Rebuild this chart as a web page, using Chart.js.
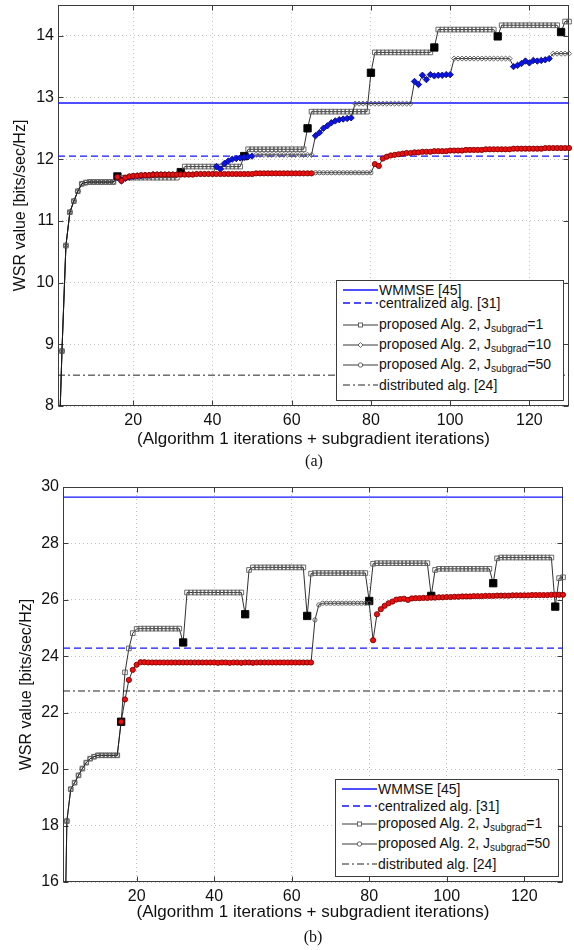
<!DOCTYPE html>
<html>
<head>
<meta charset="utf-8">
<script src="https://cdn.jsdelivr.net/npm/chart.js@4.4.1/dist/chart.umd.min.js"></script>
<style>
  body { margin: 0; background: #fff; width: 574px; height: 950px; position: relative; overflow: hidden;
         font-family: "Liberation Sans", Arial, sans-serif; color: #111; }
  canvas { position: absolute; left: 0; }
  .caption { position: absolute; width: 40px; text-align: center; font: 16px "Liberation Serif", serif; }
  .legend { position: absolute; border: 1px solid #3c3c3c; background: #fff; box-sizing: border-box; }
  .legend .row { position: absolute; left: 0; height: 16px; display: flex; align-items: center;
                 font-size: 14px; line-height: 16px; white-space: nowrap; }
  .legend svg { flex: none; }
  .sub { font-size: 10px; position: relative; top: 3px; }
</style>
</head>
<body>
<canvas id="chartA" width="574" height="470" style="top:0;width:574px;height:470px"></canvas>
<canvas id="chartB" width="574" height="480" style="top:470px;width:574px;height:480px"></canvas>
<div class="caption" style="left:294px;top:452px">(a)</div>
<div class="caption" style="left:293px;top:928px">(b)</div>

<div class="legend" style="left:336px;top:280px;width:228px;height:121px">
  <div class="row" style="top:0.5px"><svg width="42" height="16"><line x1="6" y1="8" x2="41" y2="8" stroke="#1414ff" stroke-width="1.3"/></svg><span>WMMSE [45]</span></div>
  <div class="row" style="top:13.5px"><svg width="42" height="16"><line x1="6" y1="8" x2="41" y2="8" stroke="#1414ff" stroke-width="1.3" stroke-dasharray="7 4"/></svg><span>centralized alg. [31]</span></div>
  <div class="row" style="top:35.5px"><svg width="42" height="16"><line x1="6" y1="8" x2="41" y2="8" stroke="#222" stroke-width="0.9"/><rect x="21.5" y="6" width="4" height="4" fill="#fff" stroke="#555" stroke-width="0.9"/></svg><span>proposed Alg. 2, J<span class="sub">subgrad</span>=1</span></div>
  <div class="row" style="top:56px"><svg width="42" height="16"><line x1="6" y1="8" x2="41" y2="8" stroke="#222" stroke-width="0.9"/><polygon points="23.5,5.5 26,8 23.5,10.5 21,8" fill="#fff" stroke="#555" stroke-width="0.9"/></svg><span>proposed Alg. 2, J<span class="sub">subgrad</span>=10</span></div>
  <div class="row" style="top:76px"><svg width="42" height="16"><line x1="6" y1="8" x2="41" y2="8" stroke="#222" stroke-width="0.9"/><circle cx="23.5" cy="8" r="2.2" fill="#fff" stroke="#555" stroke-width="0.9"/></svg><span>proposed Alg. 2, J<span class="sub">subgrad</span>=50</span></div>
  <div class="row" style="top:95.5px"><svg width="42" height="16"><line x1="6" y1="8" x2="41" y2="8" stroke="#222" stroke-width="1" stroke-dasharray="7 3 2 3"/></svg><span>distributed alg. [24]</span></div>
</div>

<div class="legend" style="left:335px;top:779px;width:224px;height:98px">
  <div class="row" style="top:0.5px"><svg width="42" height="16"><line x1="6" y1="8" x2="41" y2="8" stroke="#1414ff" stroke-width="1.3"/></svg><span>WMMSE [45]</span></div>
  <div class="row" style="top:18px"><svg width="42" height="16"><line x1="6" y1="8" x2="41" y2="8" stroke="#1414ff" stroke-width="1.3" stroke-dasharray="7 4"/></svg><span>centralized alg. [31]</span></div>
  <div class="row" style="top:36px"><svg width="42" height="16"><line x1="6" y1="8" x2="41" y2="8" stroke="#222" stroke-width="0.9"/><rect x="21.5" y="6" width="4" height="4" fill="#fff" stroke="#555" stroke-width="0.9"/></svg><span>proposed Alg. 2, J<span class="sub">subgrad</span>=1</span></div>
  <div class="row" style="top:56px"><svg width="42" height="16"><line x1="6" y1="8" x2="41" y2="8" stroke="#222" stroke-width="0.9"/><circle cx="23.5" cy="8" r="2.2" fill="#fff" stroke="#555" stroke-width="0.9"/></svg><span>proposed Alg. 2, J<span class="sub">subgrad</span>=50</span></div>
  <div class="row" style="top:76px"><svg width="42" height="16"><line x1="6" y1="8" x2="41" y2="8" stroke="#222" stroke-width="1" stroke-dasharray="7 3 2 3"/></svg><span>distributed alg. [24]</span></div>
</div>

<script>
// iteration axis and ticks
const xMin = 1, xMax = 130;
const xTicks = [20, 40, 60, 80, 100, 120];
const yTicksA = [8, 9, 10, 11, 12, 13, 14];
const yTicksB = [16, 18, 20, 22, 24, 26, 28, 30];

// benchmark levels (a) and (b)
const wmmseA = 12.91, centralA = 12.05, distribA = 8.50;
const wmmseB = 29.64, centralB = 24.29, distribB = 22.77;

// iterations run as subgradient steps (filled markers), as [first, last]
const subJ1 = [[16, 16], [32, 32], [48, 48], [64, 64], [80, 80], [96, 96], [112, 112], [128, 128]];
const subJ10 = [[16, 25], [41, 50], [66, 75], [91, 100], [116, 125]];
const subJ50 = [[16, 65], [81, 130]];

// (a): first 15 Algorithm 1 iterations are shared by every variant
const warmupA = [6.80, 8.89, 10.60, 11.14, 11.32, 11.48, 11.60, 11.62, 11.63, 11.63,
                 11.63, 11.63, 11.63, 11.63, 11.63];
const j1A = warmupA.concat([
  11.72, 11.70, 11.70, 11.70, 11.70,
  11.70, 11.70, 11.70, 11.70, 11.70, 11.70, 11.70, 11.70, 11.70, 11.70,
  11.70, 11.79, 11.88, 11.88, 11.88, 11.88, 11.88, 11.88, 11.88, 11.88,
  11.88, 11.88, 11.88, 11.88, 11.88, 11.88, 11.88, 12.05, 12.16, 12.16,
  12.16, 12.16, 12.16, 12.16, 12.16, 12.16, 12.16, 12.16, 12.16, 12.16,
  12.16, 12.16, 12.16, 12.50, 12.77, 12.77, 12.77, 12.77, 12.77, 12.77,
  12.77, 12.77, 12.77, 12.77, 12.77, 12.77, 12.77, 12.77, 12.77, 13.40,
  13.73, 13.73, 13.73, 13.73, 13.73, 13.73, 13.73, 13.73, 13.73, 13.73,
  13.73, 13.73, 13.73, 13.73, 13.73, 13.81, 14.10, 14.10, 14.10, 14.10,
  14.10, 14.10, 14.10, 14.10, 14.10, 14.10, 14.10, 14.10, 14.10, 14.10,
  14.10, 13.99, 14.17, 14.17, 14.17, 14.17, 14.17, 14.17, 14.17, 14.17,
  14.17, 14.17, 14.17, 14.17, 14.17, 14.17, 14.17, 14.06, 14.23, 14.23
]);
const j10A = warmupA.concat([
  11.71, 11.65, 11.69, 11.71, 11.72,
  11.73, 11.73, 11.74, 11.74, 11.75, 11.76, 11.76, 11.76, 11.76, 11.76,
  11.76, 11.76, 11.76, 11.76, 11.76, 11.76, 11.76, 11.76, 11.76, 11.76,
  11.88, 11.84, 11.93, 11.97, 12.00, 12.01, 12.02, 12.03, 12.04, 12.05,
  12.07, 12.07, 12.07, 12.07, 12.07, 12.07, 12.07, 12.07, 12.07, 12.07,
  12.07, 12.07, 12.07, 12.07, 12.07, 12.38, 12.43, 12.50, 12.54, 12.59,
  12.62, 12.64, 12.65, 12.66, 12.67, 12.90, 12.90, 12.90, 12.90, 12.90,
  12.90, 12.90, 12.90, 12.90, 12.90, 12.90, 12.90, 12.90, 12.90, 12.90,
  13.26, 13.21, 13.36, 13.29, 13.37, 13.35, 13.36, 13.36, 13.37, 13.37,
  13.63, 13.63, 13.63, 13.63, 13.63, 13.63, 13.63, 13.63, 13.63, 13.63,
  13.63, 13.63, 13.63, 13.63, 13.63, 13.50, 13.52, 13.55, 13.59, 13.56,
  13.60, 13.59, 13.60, 13.61, 13.63, 13.71, 13.71, 13.71, 13.71, 13.71
]);
const j50A = warmupA.concat([
  11.71, 11.65, 11.70, 11.72, 11.73,
  11.73, 11.74, 11.74, 11.74, 11.75, 11.75, 11.75, 11.75, 11.75, 11.75,
  11.75, 11.75, 11.75, 11.75, 11.75, 11.76, 11.76, 11.76, 11.76, 11.76,
  11.76, 11.76, 11.76, 11.76, 11.76, 11.76, 11.76, 11.76, 11.76, 11.76,
  11.77, 11.77, 11.77, 11.77, 11.77, 11.77, 11.77, 11.77, 11.77, 11.77,
  11.77, 11.77, 11.77, 11.77, 11.77, 11.78, 11.78, 11.78, 11.78, 11.78,
  11.78, 11.78, 11.78, 11.78, 11.78, 11.78, 11.78, 11.78, 11.78, 11.78,
  11.92, 11.89, 12.01, 12.04, 12.06, 12.07, 12.08, 12.09, 12.10, 12.10,
  12.11, 12.11, 12.12, 12.12, 12.12, 12.13, 12.13, 12.13, 12.13, 12.14,
  12.14, 12.14, 12.14, 12.15, 12.15, 12.15, 12.15, 12.15, 12.16, 12.16,
  12.16, 12.16, 12.16, 12.16, 12.16, 12.17, 12.17, 12.17, 12.17, 12.17,
  12.17, 12.17, 12.17, 12.18, 12.18, 12.18, 12.18, 12.18, 12.18, 12.18
]);

// (b)
const warmupB = [10.00, 18.16, 19.29, 19.52, 19.78, 20.02, 20.23, 20.37, 20.44, 20.49,
                 20.49, 20.49, 20.49, 20.49, 20.49];
const j1B = warmupB.concat([
  21.68, 23.43, 24.28, 24.82, 24.97,
  24.98, 24.98, 24.98, 24.98, 24.98, 24.98, 24.98, 24.98, 24.98, 24.98,
  24.98, 24.49, 26.26, 26.26, 26.26, 26.26, 26.26, 26.26, 26.26, 26.26,
  26.26, 26.26, 26.26, 26.26, 26.26, 26.26, 26.26, 25.49, 27.06, 27.15,
  27.15, 27.15, 27.15, 27.15, 27.15, 27.15, 27.15, 27.15, 27.15, 27.15,
  27.15, 27.15, 27.15, 25.43, 26.93, 26.95, 26.95, 26.95, 26.95, 26.95,
  26.95, 26.95, 26.95, 26.95, 26.95, 26.95, 26.95, 26.95, 26.95, 25.96,
  27.28, 27.30, 27.30, 27.30, 27.30, 27.30, 27.30, 27.30, 27.30, 27.30,
  27.30, 27.30, 27.30, 27.30, 27.30, 26.14, 27.06, 27.10, 27.10, 27.10,
  27.10, 27.10, 27.10, 27.10, 27.10, 27.10, 27.10, 27.10, 27.10, 27.10,
  27.10, 26.59, 27.47, 27.50, 27.50, 27.50, 27.50, 27.50, 27.50, 27.50,
  27.50, 27.50, 27.50, 27.50, 27.50, 27.50, 27.50, 25.76, 26.77, 26.80
]);
const j50B = warmupB.concat([
  21.68, 22.47, 23.16, 23.52, 23.70,
  23.79, 23.79, 23.78, 23.78, 23.78, 23.78, 23.78, 23.78, 23.78, 23.78,
  23.78, 23.78, 23.78, 23.78, 23.78, 23.78, 23.78, 23.78, 23.78, 23.78,
  23.77, 23.78, 23.78, 23.77, 23.78, 23.78, 23.77, 23.78, 23.78, 23.77,
  23.78, 23.78, 23.78, 23.78, 23.78, 23.78, 23.78, 23.78, 23.78, 23.78,
  23.78, 23.78, 23.78, 23.78, 23.78, 25.29, 25.82, 25.88, 25.88, 25.88,
  25.88, 25.88, 25.88, 25.88, 25.88, 25.88, 25.88, 25.88, 25.88, 25.88,
  24.57, 25.49, 25.67, 25.79, 25.88, 25.94, 26.01, 26.03, 26.04, 26.00,
  26.05, 26.06, 26.06, 26.07, 26.07, 26.08, 26.08, 26.09, 26.09, 26.10,
  26.10, 26.11, 26.11, 26.12, 26.12, 26.12, 26.13, 26.13, 26.13, 26.14,
  26.14, 26.14, 26.15, 26.15, 26.15, 26.15, 26.16, 26.16, 26.16, 26.16,
  26.16, 26.17, 26.17, 26.17, 26.17, 26.17, 26.18, 26.18, 26.18, 26.18
]);

const fontFamily = '"Liberation Sans", Arial, sans-serif';
const inRanges = (ranges, it) => ranges.some(([a, b]) => it >= a && it <= b);

const markSquare = {shape: 'rect', radius: 3.3, subRadius: 5.2, fill: '#000', edge: '#000'};
const markDiamond = {shape: 'rectRot', radius: 2.6, subRadius: 3.2, fill: '#0a14e6', edge: '#0a0a80'};
const markCircle = {shape: 'circle', radius: 2.1, subRadius: 2.6, fill: '#ee1010', edge: '#800000'};

function seriesDataset(label, values, ranges, mk, order) {
  const isSub = c => inRanges(ranges, c.dataIndex + 1);
  return {
    label,
    data: values.map((v, i) => ({x: i + 1, y: v})),
    borderColor: '#1a1a1a',
    borderWidth: 0.9,
    pointStyle: mk.shape,
    pointRadius: c => isSub(c) ? mk.subRadius : mk.radius,
    pointBackgroundColor: c => isSub(c) ? mk.fill : 'rgba(255,255,255,0)',
    pointBorderColor: c => isSub(c) ? mk.edge : '#5a5a5a',
    pointBorderWidth: 0.9,
    order,
    clip: {left: 8, right: 8, top: 8, bottom: 0}
  };
}

function levelDataset(label, y, color, dash, width) {
  return {
    label,
    data: [{x: xMin, y}, {x: xMax, y}],
    borderColor: color,
    borderDash: dash,
    borderWidth: width,
    pointRadius: 0,
    order: 10
  };
}

// Matlab-style box with inward tick marks
const axesBox = {
  id: 'axesBox',
  beforeDatasetsDraw(chart) {
    const {ctx, chartArea: a, scales} = chart;
    const l = Math.round(a.left) + 0.5, r = Math.round(a.right) - 0.5;
    const t = Math.round(a.top) + 0.5, b = Math.round(a.bottom) - 0.5;
    ctx.save();
    ctx.strokeStyle = '#3c3c3c';
    ctx.lineWidth = 1;
    ctx.beginPath();
    scales.x.ticks.forEach(tk => {
      const px = Math.round(scales.x.getPixelForValue(tk.value)) + 0.5;
      ctx.moveTo(px, b); ctx.lineTo(px, b - 5);
      ctx.moveTo(px, t); ctx.lineTo(px, t + 5);
    });
    scales.y.ticks.forEach(tk => {
      const py = Math.round(scales.y.getPixelForValue(tk.value)) + 0.5;
      ctx.moveTo(l, py); ctx.lineTo(l + 5, py);
      ctx.moveTo(r, py); ctx.lineTo(r - 5, py);
    });
    ctx.stroke();
    ctx.strokeRect(l, t, r - l, b - t);
    ctx.restore();
  }
};

function makeChart(id, opt) {
  return new Chart(document.getElementById(id), {
    type: 'line',
    data: {datasets: opt.datasets},
    options: {
      responsive: false,
      animation: false,
      events: [],
      layout: {padding: opt.padding},
      plugins: {legend: {display: false}, tooltip: {enabled: false}},
      scales: {
        x: {
          type: 'linear', min: xMin, max: xMax,
          afterBuildTicks: s => { s.ticks = xTicks.map(v => ({value: v})); },
          afterFit: s => { s.height = opt.xHeight; s.paddingLeft = 0; s.paddingRight = 0; },
          grid: {color: '#c2c2c2', lineWidth: 1, drawTicks: false},
          border: {display: false, dash: [1, 3]},
          ticks: {padding: 5, maxRotation: 0, color: '#111', font: {size: 16, family: fontFamily}},
          title: {display: true, text: '(Algorithm 1 iterations + subgradient iterations)', color: '#111',
                  font: {size: 17, family: fontFamily}, padding: {top: 0, bottom: 0}}
        },
        y: {
          type: 'linear', min: opt.yMin, max: opt.yMax,
          afterBuildTicks: s => { s.ticks = opt.yTicks.map(v => ({value: v})); },
          afterFit: s => { s.width = opt.yWidth; s.paddingTop = 0; s.paddingBottom = 0; },
          grid: {color: '#c2c2c2', lineWidth: 1, drawTicks: false},
          border: {display: false, dash: [1, 3]},
          ticks: {padding: 4, color: '#111', font: {size: 16, family: fontFamily}},
          title: {display: true, text: 'WSR value [bits/sec/Hz]', color: '#111',
                  font: {size: 16, family: fontFamily}, padding: {top: opt.yTitlePad, bottom: 0}}
        }
      }
    },
    plugins: [axesBox]
  });
}

makeChart('chartA', {
  yMin: 8, yMax: 14.5, yTicks: yTicksA, yWidth: 58, yTitlePad: 11, xHeight: 44,
  padding: {left: 0, right: 5, top: 3, bottom: 20},
  datasets: [
    seriesDataset('proposed Alg. 2, J=50', j50A, subJ50, markCircle, 1),
    seriesDataset('proposed Alg. 2, J=10', j10A, subJ10, markDiamond, 2),
    seriesDataset('proposed Alg. 2, J=1', j1A, subJ1, markSquare, 3),
    levelDataset('WMMSE [45]', wmmseA, '#1414ff', [], 1.3),
    levelDataset('centralized alg. [31]', centralA, '#1414ff', [7, 4], 1.3),
    levelDataset('distributed alg. [24]', distribA, '#222', [7, 3, 2, 3], 1)
  ]
});

makeChart('chartB', {
  yMin: 16, yMax: 30, yTicks: yTicksB, yWidth: 63, yTitlePad: 17, xHeight: 41,
  padding: {left: 0, right: 11, top: 17, bottom: 27},
  datasets: [
    seriesDataset('proposed Alg. 2, J=50', j50B, subJ50, markCircle, 1),
    seriesDataset('proposed Alg. 2, J=1', j1B, subJ1, markSquare, 3),
    levelDataset('WMMSE [45]', wmmseB, '#1414ff', [], 1.3),
    levelDataset('centralized alg. [31]', centralB, '#1414ff', [7, 4], 1.3),
    levelDataset('distributed alg. [24]', distribB, '#222', [7, 3, 2, 3], 1)
  ]
});
</script>
</body>
</html>
